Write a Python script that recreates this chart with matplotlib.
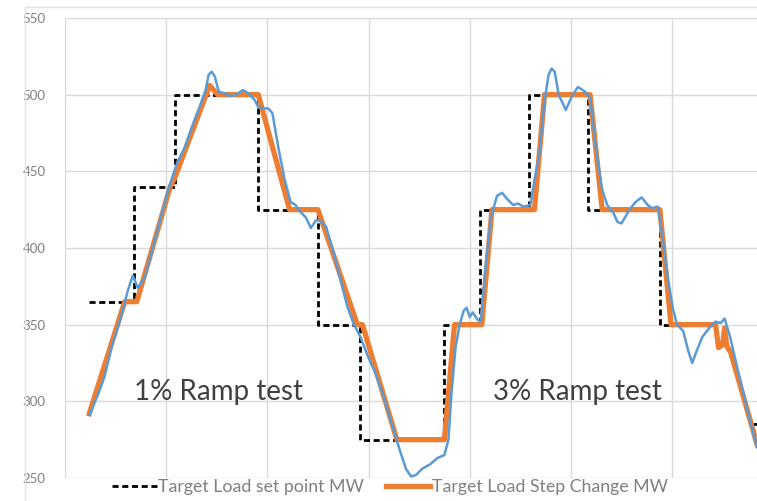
import numpy as np
import matplotlib
matplotlib.use("Agg")
import matplotlib.pyplot as plt
from matplotlib.patches import Rectangle

# Zeit in Minuten (Rasterlinie alle 10 min), Leistung in MW
sp_t = [2.4, 6.8, 10.9, 19.1, 25.0, 29.2, 37.5, 41.0, 45.9, 51.7, 58.8, 64.3, 64.3, 68.0, 68.4]
sp_mw = [365, 440, 500, 425, 350, 275, 350, 425, 500, 425, 350, 350, np.nan, 285, 285]

step_t = [2.4, 5.9, 7.1, 10.4, 10.8, 14.3, 15.1, 19.1, 22.2, 25.0, 28.9, 29.4,
          32.8, 37.5, 38.5, 41.2, 42.2, 46.4, 47.4, 51.9, 53.1, 58.8, 59.9,
          64.3, 64.6, 65.0, 65.2, 65.4, 65.8, 68.4]
step_mw = [292, 365, 365, 440, 445, 506, 500, 500, 425, 425, 350, 350,
           275, 275, 350, 350, 425, 425, 500, 500, 425, 425, 350,
           350, 335, 337, 348, 336, 332, 272]

act_t = [2.4, 3.3, 3.9, 4.6, 5.4, 6.2, 6.7, 7.2, 7.9, 8.6, 9.4, 10.2, 10.7,
         11.1, 11.8, 12.6, 13.3, 13.9, 14.2, 14.5, 14.8, 15.2, 15.7, 16.3,
         16.9, 17.6, 18.1, 18.7, 19.1, 19.5, 20.1, 20.5, 21.1, 21.7, 22.3,
         22.8, 23.2, 23.8, 24.3, 24.8, 25.2, 25.8, 26.5, 27.2, 27.9, 28.5,
         29.2, 29.9, 30.7, 31.5, 32.3, 33.1, 33.7, 34.2, 34.7, 35.3, 36.1,
         36.8, 37.5, 37.9, 38.2, 38.6, 39.0, 39.4, 39.7, 40.0, 40.3, 40.8,
         41.1, 41.6, 42.1, 42.7, 43.2, 43.7, 44.3, 44.8, 45.3, 46.0, 46.4,
         46.9, 47.4, 47.8, 48.1, 48.4, 48.8, 49.5, 50.1, 50.7, 51.4, 51.9,
         52.5, 53.1, 53.6, 54.2, 54.6, 55.0, 55.8, 56.4, 57.0, 57.6, 58.0,
         58.6, 59.1, 59.6, 60.1, 60.5, 61.1, 61.6, 62.0, 62.5, 63.0, 63.7,
         64.3, 64.8, 65.2, 65.7, 66.7, 67.5, 68.4]
act_mw = [291, 305, 316, 335, 352, 372, 382, 374, 381, 398, 418, 438, 448,
          456, 465, 480, 492, 503, 513, 515, 512, 502, 501, 499,
          500, 503, 501, 497, 492, 491, 491, 488, 465, 445, 430,
          428, 424, 420, 413, 418, 418, 414, 398, 380, 362, 351,
          342, 330, 318, 303, 285, 268, 256, 251, 252, 256, 259,
          263, 265, 275, 305, 335, 350, 359, 361, 355, 358, 353,
          352, 390, 420, 434, 436, 432, 428, 429, 427, 428, 444,
          462, 496, 513, 517, 515, 500, 490, 499, 505, 502, 498,
          464, 438, 428, 423, 417, 416, 425, 430, 433, 428, 426,
          427, 405, 380, 360, 350, 346, 333, 325, 334, 342, 348,
          352, 351, 354, 343, 315, 293, 270]

fig = plt.figure(figsize=(7.57, 5.01), dpi=100)
plt.rcParams['font.family'] = ['Lato', 'DejaVu Sans']

# Rahmen des Diagrammbereichs
fig.add_artist(Rectangle((25 / 757, -0.1), 1.0, 1.1 - 7 / 501, transform=fig.transFigure,
                         fill=False, edgecolor='#e3e3e3', linewidth=1))

ax = fig.add_axes([65 / 757, 1 - 478 / 501, 1 - 65 / 757, (478 - 18) / 501])
ax.set_xlim(0, 68.4)
ax.set_ylim(250, 550)
ax.set_xticks(np.arange(0, 70, 10))
ax.set_yticks(np.arange(250, 551, 50))
ax.grid(True, color='#d9d9d9', linewidth=1)
ax.set_axisbelow(True)
for s in ax.spines.values():
    s.set_visible(False)
ax.tick_params(length=0, labelbottom=False, labelsize=9.5, labelcolor='#7f7f7f', pad=14)

ax.plot(sp_t, sp_mw, drawstyle='steps-post', color='black', linewidth=2,
        dashes=(2.2, 1.3), label='Target Load set point MW')
ax.plot(step_t, step_mw, color='#ED7D31', linewidth=3.8, solid_joinstyle='round',
        label='Target Load Step Change MW')
ax.plot(act_t, act_mw, color='#5B9BD5', linewidth=1.8, clip_on=False)

ax.text(15.2, 306, '1% Ramp test', fontsize=20, color='#404040', ha='center', va='center')
ax.text(50.7, 306, '3% Ramp test', fontsize=20, color='#404040', ha='center', va='center')

fig.legend(loc='center', bbox_to_anchor=(390 / 757, 1 - 487 / 501), ncol=2, frameon=False,
           fontsize=12.8, labelcolor='#808080', handlelength=2.5, handletextpad=0.1,
           columnspacing=1.2)

fig.savefig('out.png', dpi=100)
